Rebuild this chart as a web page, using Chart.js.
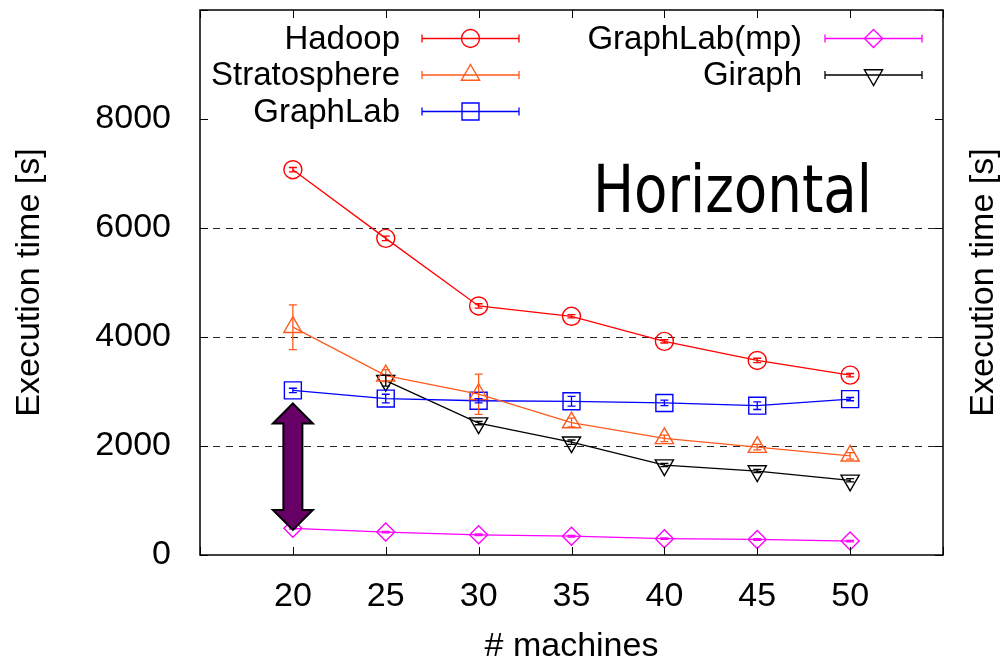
<!DOCTYPE html>
<html><head><meta charset="utf-8">
<script src="https://cdn.jsdelivr.net/npm/chart.js@4.4.1/dist/chart.umd.min.js"></script>
<style>html,body{margin:0;padding:0;background:#fff;}canvas{display:block;}</style>
</head><body>
<canvas id="c" width="1003" height="663"></canvas>
<script>
// ---- data ----
const machines = [20, 25, 30, 35, 40, 45, 50];
const seriesNames = ['Hadoop', 'Stratosphere', 'GraphLab', 'GraphLab(mp)', 'Giraph'];
const hadoop = [7070, 5810, 4570, 4380, 3920, 3570, 3300];
const hadoopErr = [40, 40, 40, 30, 30, 40, 30];
const stratosphere = [4180, 3290, 2950, 2430, 2140, 1980, 1820];
const stratosphereErr = [410, 110, 370, 80, 60, 50, 60];
const graphlab = [3020, 2870, 2830, 2820, 2790, 2740, 2860];
const graphlabErr = [40, 80, 40, 90, 50, 70, 30];
const graphlabMp = [490, 420, 370, 345, 300, 285, 255];
const graphlabMpErr = [15, 15, 15, 15, 15, 15, 15];
const giraph = [null, 3200, 2420, 2070, 1650, 1540, 1370];
const giraphErr = [0, 100, 30, 40, 30, 30, 30];
const xTickLabels = [20, 25, 30, 35, 40, 45, 50];
const yTickLabels = [0, 2000, 4000, 6000, 8000];
const yGridValues = [2000, 4000, 6000];
const arrowAtX = 20;
const arrowSpan = [2780, 460];
const annotationText = 'Horizontal';
const xTitle = '# machines';
const yTitle = 'Execution time [s]';

// ---- styles ----
const colors = ['#ff0000', '#ff5a1e', '#0000ff', '#ff00ff', '#000000'];
const styles = [
  {pointStyle: 'circle', radius: 9, rotation: 0},
  {pointStyle: 'triangle', radius: 10.5, rotation: 0},
  {pointStyle: 'rect', radius: 12, rotation: 0},
  {pointStyle: 'rectRot', radius: 9, rotation: 0},
  {pointStyle: 'triangle', radius: 10.5, rotation: 180}
];
const values = [hadoop, stratosphere, graphlab, graphlabMp, giraph];
const errors = [hadoopErr, stratosphereErr, graphlabErr, graphlabMpErr, giraphErr];

Chart.defaults.font.family = '"Liberation Sans", Arial, sans-serif';
Chart.defaults.color = '#000';

const datasets = seriesNames.map((name, i) => ({
  label: name,
  data: machines.map((m, j) => ({x: m, y: values[i][j]})),
  errs: errors[i],
  borderColor: colors[i],
  backgroundColor: 'rgba(0,0,0,0)',
  pointBackgroundColor: 'rgba(0,0,0,0)',
  pointBorderColor: colors[i],
  pointBorderWidth: 1.4,
  borderWidth: 1.3,
  pointStyle: styles[i].pointStyle,
  pointRadius: styles[i].radius,
  pointRotation: styles[i].rotation,
  pointHoverRadius: styles[i].radius,
  showLine: true,
  spanGaps: true,
  tension: 0,
  clip: false
}));

function drawMarker(ctx, st, x, y, color) {
  ctx.save();
  ctx.strokeStyle = color;
  ctx.lineWidth = 1.4;
  ctx.beginPath();
  const r = st.radius;
  if (st.pointStyle === 'circle') {
    ctx.arc(x, y, r, 0, Math.PI * 2);
  } else if (st.pointStyle === 'rect') {
    const s = r * Math.SQRT1_2;
    ctx.rect(x - s, y - s, 2 * s, 2 * s);
  } else if (st.pointStyle === 'rectRot') {
    ctx.moveTo(x - r, y); ctx.lineTo(x, y - r); ctx.lineTo(x + r, y); ctx.lineTo(x, y + r); ctx.closePath();
  } else if (st.pointStyle === 'triangle') {
    let rad = st.rotation * Math.PI / 180;
    ctx.moveTo(x + Math.sin(rad) * r, y - Math.cos(rad) * r);
    rad += 2 * Math.PI / 3;
    ctx.lineTo(x + Math.sin(rad) * r, y - Math.cos(rad) * r);
    rad += 2 * Math.PI / 3;
    ctx.lineTo(x + Math.sin(rad) * r, y - Math.cos(rad) * r);
    ctx.closePath();
  }
  ctx.stroke();
  ctx.restore();
}

const decorPlugin = {
  id: 'decor',
  beforeDatasetsDraw(chart) {
    const {ctx, chartArea: a, scales: {y}} = chart;
    ctx.save();
    ctx.strokeStyle = 'rgba(0,0,0,0.85)';
    ctx.lineWidth = 1;
    ctx.setLineDash([7, 6]);
    yGridValues.forEach(v => {
      const py = Math.round(y.getPixelForValue(v)) + 0.5;
      ctx.beginPath(); ctx.moveTo(a.left, py); ctx.lineTo(a.right, py); ctx.stroke();
    });
    ctx.restore();
  },
  afterDatasetsDraw(chart) {
    const {ctx, chartArea: a, scales: {x, y}} = chart;
    // error bars
    chart.data.datasets.forEach((ds, i) => {
      const meta = chart.getDatasetMeta(i);
      ctx.save();
      ctx.strokeStyle = ds.borderColor;
      ctx.lineWidth = 1.3;
      meta.data.forEach((pt, j) => {
        const v = ds.data[j].y;
        if (v === null || v === undefined) return;
        const e = ds.errs[j];
        const px = x.getPixelForValue(ds.data[j].x);
        const y1 = y.getPixelForValue(v - e), y2 = y.getPixelForValue(v + e);
        ctx.beginPath();
        ctx.moveTo(px, y1); ctx.lineTo(px, y2);
        ctx.moveTo(px - 4, y1); ctx.lineTo(px + 4, y1);
        ctx.moveTo(px - 4, y2); ctx.lineTo(px + 4, y2);
        ctx.stroke();
      });
      ctx.restore();
    });
    // frame
    ctx.save();
    ctx.strokeStyle = '#000';
    ctx.lineWidth = 1.5;
    ctx.strokeRect(a.left, a.top, a.right - a.left, a.bottom - a.top);
    ctx.lineWidth = 1;
    ctx.beginPath();
    x.ticks.forEach(t => {
      const px = Math.round(x.getPixelForValue(t.value)) + 0.5;
      ctx.moveTo(px, a.bottom); ctx.lineTo(px, a.bottom - 8);
      ctx.moveTo(px, a.top); ctx.lineTo(px, a.top + 8);
    });
    y.ticks.forEach(t => {
      const py = Math.round(y.getPixelForValue(t.value)) + 0.5;
      ctx.moveTo(a.left, py); ctx.lineTo(a.left + 8, py);
      ctx.moveTo(a.right, py); ctx.lineTo(a.right - 8, py);
    });
    ctx.stroke();
    ctx.restore();
    // double arrow
    const ax = x.getPixelForValue(arrowAtX);
    const yt = y.getPixelForValue(arrowSpan[0]);
    const yb = y.getPixelForValue(arrowSpan[1]);
    const hl = 20, hw = 20, sw = 9.5;
    ctx.save();
    ctx.beginPath();
    ctx.moveTo(ax, yt);
    ctx.lineTo(ax + hw, yt + hl);
    ctx.lineTo(ax + sw, yt + hl);
    ctx.lineTo(ax + sw, yb - hl);
    ctx.lineTo(ax + hw, yb - hl);
    ctx.lineTo(ax, yb);
    ctx.lineTo(ax - hw, yb - hl);
    ctx.lineTo(ax - sw, yb - hl);
    ctx.lineTo(ax - sw, yt + hl);
    ctx.lineTo(ax - hw, yt + hl);
    ctx.closePath();
    ctx.fillStyle = '#660066';
    ctx.fill();
    ctx.lineWidth = 2;
    ctx.strokeStyle = '#000';
    ctx.lineJoin = 'miter';
    ctx.stroke();
    ctx.restore();
  },
  afterDraw(chart) {
    const {ctx, chartArea: a} = chart;
    // annotation text
    ctx.save();
    ctx.font = '66px "DejaVu Sans", sans-serif';
    ctx.fillStyle = '#000';
    ctx.textBaseline = 'alphabetic';
    const w = ctx.measureText(annotationText).width;
    ctx.translate(a.left + 393, a.top + 202);
    ctx.scale(279 / w, 1);
    ctx.fillText(annotationText, 0, 0);
    ctx.restore();
    // right axis title
    ctx.save();
    ctx.font = '34px "Liberation Sans", Arial, sans-serif';
    ctx.fillStyle = '#000';
    ctx.textAlign = 'center';
    ctx.textBaseline = 'middle';
    ctx.translate(chart.width - 19, (a.top + a.bottom) / 2);
    ctx.rotate(-Math.PI / 2);
    ctx.fillText(yTitle, 0, 0);
    ctx.restore();
    // legend
    const cols = [{tr: a.left + 200, ls: a.left + 222, le: a.left + 319},
                  {tr: a.left + 602, ls: a.left + 625, le: a.left + 722}];
    const rows = [a.top + 28.5, a.top + 65, a.top + 101.5];
    ctx.save();
    ctx.font = '33px "Liberation Sans", Arial, sans-serif';
    ctx.textAlign = 'right';
    ctx.textBaseline = 'middle';
    seriesNames.forEach((name, i) => {
      const c = cols[i < 3 ? 0 : 1];
      const ry = rows[i < 3 ? i : i - 3];
      ctx.fillStyle = '#000';
      ctx.fillText(name, c.tr, ry + 1);
      ctx.strokeStyle = colors[i];
      ctx.lineWidth = 1.3;
      ctx.beginPath();
      ctx.moveTo(c.ls, ry); ctx.lineTo(c.le, ry);
      ctx.moveTo(c.ls, ry - 4); ctx.lineTo(c.ls, ry + 4);
      ctx.moveTo(c.le, ry - 4); ctx.lineTo(c.le, ry + 4);
      ctx.stroke();
      drawMarker(ctx, styles[i], (c.ls + c.le) / 2, ry, colors[i]);
    });
    ctx.restore();
  }
};

new Chart(document.getElementById('c'), {
  type: 'scatter',
  data: {datasets},
  plugins: [decorPlugin],
  options: {
    responsive: false,
    animation: false,
    devicePixelRatio: 1,
    layout: {autoPadding: false, padding: {top: 10, left: 0, right: 0, bottom: 0}},
    plugins: {legend: {display: false}, tooltip: {enabled: false}},
    scales: {
      x: {
        type: 'linear', min: 15, max: 55,
        grid: {display: false}, border: {display: false},
        ticks: {stepSize: 5, padding: 13, font: {size: 34}, maxRotation: 0, autoSkip: false,
          callback: v => xTickLabels.includes(v) ? String(v) : ''},
        title: {display: true, text: xTitle, font: {size: 34}, padding: {top: 0, bottom: -4}},
        afterFit(s) { s.height = 108; s.paddingLeft = 0; s.paddingRight = 0; }
      },
      y: {
        type: 'linear', min: 0, max: 10000, position: 'left',
        grid: {display: false}, border: {display: false},
        ticks: {stepSize: 2000, padding: 21, font: {size: 34}, autoSkip: false,
          callback: v => yTickLabels.includes(v) ? String(v) : ''},
        title: {display: true, text: yTitle, font: {size: 34}, padding: {top: 9, bottom: 0}},
        afterFit(s) { s.width = 200; s.paddingTop = 0; s.paddingBottom = 0; }
      },
      y2: {
        type: 'linear', min: 0, max: 10000, position: 'right',
        grid: {display: false}, border: {display: false},
        ticks: {display: false},
        afterFit(s) { s.width = 60; s.paddingTop = 0; s.paddingBottom = 0; }
      }
    }
  }
});
</script>
</body></html>
